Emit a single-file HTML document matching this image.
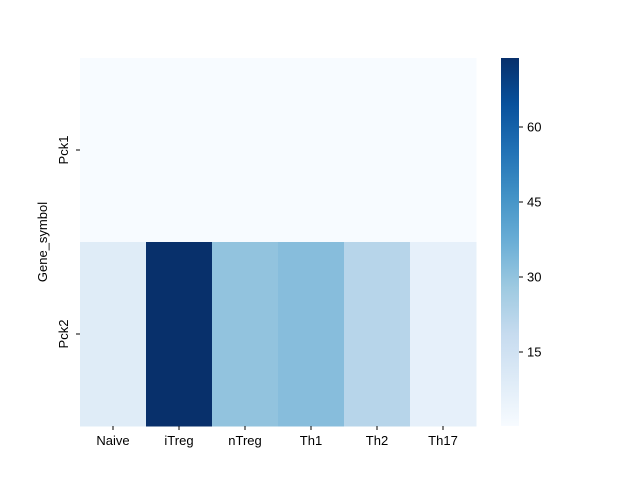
<!DOCTYPE html>
<html><head><meta charset="utf-8"><style>
body{margin:0;background:#fff;}
text{font-family:"Liberation Sans","DejaVu Sans",sans-serif;font-size:13px;fill:#000;}
</style></head><body>
<svg id="chart" width="640" height="480">
<defs><linearGradient id="cbgrad" x1="0" y1="1" x2="0" y2="0">
<stop offset="0" stop-color="#f7fbff"/><stop offset="0.125" stop-color="#deebf7"/><stop offset="0.25" stop-color="#c6dbef"/><stop offset="0.375" stop-color="#9ecae1"/><stop offset="0.5" stop-color="#6baed6"/><stop offset="0.625" stop-color="#4292c6"/><stop offset="0.75" stop-color="#2171b5"/><stop offset="0.875" stop-color="#08519c"/><stop offset="1" stop-color="#08306b"/>
</linearGradient></defs>
<g id="cells"></g>
<rect x="501" y="58" width="18" height="368" fill="url(#cbgrad)"/>
<g id="axes"></g>
<text x="47" y="242" text-anchor="middle" transform="rotate(-90 47 242)">Gene_symbol</text>
</svg>
<script>
const columns=["Naive","iTreg","nTreg","Th1","Th2","Th17"];
const rows=["Pck1","Pck2"];
const pck1Values=[0.3,0.3,0.3,0.3,0.3,0.3];
const pck2Values=[9,73.8,30,32,22,6.5];
const cbTicks=[15,30,45,60];
const vmin=0.2,vmax=73.8;
const values=[pck1Values,pck2Values];
const NS="http://www.w3.org/2000/svg";
const X0=80,X1=476,Y0=58,Y1=426;
const cw=(X1-X0)/columns.length, rh=(Y1-Y0)/rows.length;
const stops=["#f7fbff","#deebf7","#c6dbef","#9ecae1","#6baed6","#4292c6","#2171b5","#08519c","#08306b"].map(h=>[1,3,5].map(i=>parseInt(h.substr(i,2),16)));
function color(v){let t=Math.max(0,Math.min(1,(v-vmin)/(vmax-vmin)))*8;let i=Math.min(7,Math.floor(t)),f=t-i;
return "rgb("+stops[i].map((c,k)=>Math.round(c+(stops[i+1][k]-c)*f)).join(",")+")";}
function cbY(v){return Y1-(v-vmin)/(vmax-vmin)*(Y1-Y0);}
const cells=document.getElementById("cells"),axes=document.getElementById("axes");
function mk(tag,attrs,parent){const e=document.createElementNS(NS,tag);for(const k in attrs)e.setAttribute(k,attrs[k]);parent.appendChild(e);return e;}
values.forEach((rowVals,r)=>rowVals.forEach((v,c)=>{
 const e=mk("rect",{x:X0+c*cw,y:Y0+r*rh,width:cw+0.5,height:rh+0.5,fill:color(v)},cells);
 
 
}));
columns.forEach((n,c)=>{const x=X0+(c+0.5)*cw;
 const l=mk("line",{x1:x,x2:x,y1:Y1,y2:Y1+4,stroke:"#000"},axes);
 
 
 const t=mk("text",{x:x,y:Y1+19,"text-anchor":"middle"},axes);t.textContent=n;
 
 
});
rows.forEach((n,r)=>{const y=Y0+(r+0.5)*rh;
 const l=mk("line",{x1:X0-4,x2:X0,y1:y,y2:y,stroke:"#000"},axes);
 
 
 const t=mk("text",{x:68,y:y,"text-anchor":"middle",transform:"rotate(-90 68 "+y+")"},axes);t.textContent=n;
 
 
});
cbTicks.forEach(v=>{const y=cbY(v);
 const l=mk("line",{x1:519,x2:523,y1:y,y2:y,stroke:"#000"},axes);
 
 
 const t=mk("text",{x:527,y:y+4.5},axes);t.textContent=v;
 
 
});
</script>
</body></html>
